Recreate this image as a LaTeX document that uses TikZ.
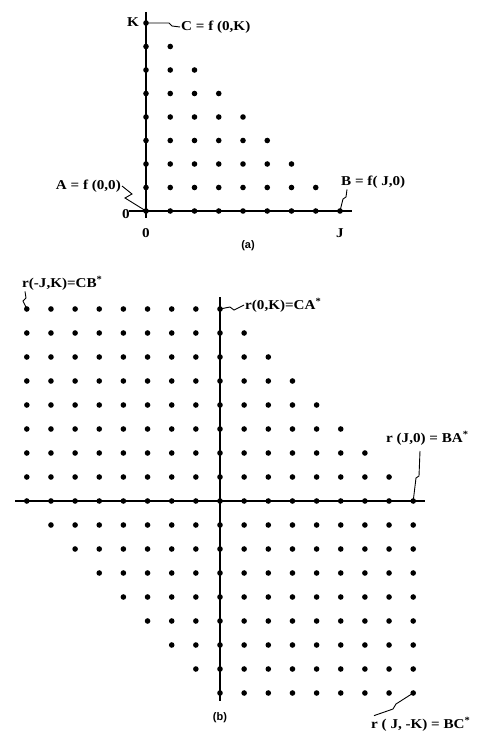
\documentclass[tikz,border=0pt]{standalone}
\usepackage{fontspec}
\setmainfont{Liberation Serif}
\newfontfamily\lblfont[FakeStretch=1.12]{Liberation Serif}
\newfontfamily\capfont{Liberation Sans}
\begin{document}
\begin{tikzpicture}[x=1pt,y=-1pt,
  lbl/.style={font=\lblfont\bfseries\fontsize{13.5}{15}\selectfont, inner sep=1pt},
  figcap/.style={font=\capfont\bfseries\fontsize{11}{13}\selectfont, inner sep=1pt},
  axis/.style={line width=1.4pt},
  leader/.style={line width=0.9pt}]
\useasboundingbox (0,0) rectangle (487,733);
% ---------- (a) ----------
\draw[axis] (129,211) -- (352,211);
\draw[axis] (146,12) -- (146,218);
\foreach \k in {0,...,8}{
  \pgfmathtruncatemacro\m{8-\k}
  \foreach \j in {0,...,\m}{
    \fill ({146+24.25*\j},{211-23.5*\k}) circle (2.8);
  }
}
\coordinate (a0) at (146,211);
\coordinate (aK) at (146,23);
\coordinate (aJ) at (340,211);
\node[lbl] (Ka) at (133,22) {K};
\node[lbl,anchor=west] (C) at (180,27) {C = f (0,K)};
\draw[leader] (aK) -- (169,23) -- (172,26) -- (C.west);
\node[lbl,anchor=east] (A) at (122,186) {A = f (0,0)};
\draw[leader] (A.east) -- (132,194) -- (125,198) -- (a0);
\node[lbl] (zl) at (126,214) {0};
\node[lbl] (zb) at (146,233) {0};
\node[lbl] (Ja) at (340,233) {J};
\node[figcap] (capa) at (248,246) {(a)};
\node[lbl,anchor=west] (B) at (340,182) {B = f( J,0)};
\draw[leader] ([xshift=7pt]B.south west) -- (346,197) -- (343,199) -- (aJ);
% ---------- (b) ----------
\draw[axis] (15,501) -- (425,501);
\draw[axis] (220,297) -- (220,701);
\foreach \k in {-8,...,8}{
  \pgfmathtruncatemacro\jlo{max(-8,-8-\k)}
  \pgfmathtruncatemacro\jhi{min(8,8-\k)}
  \foreach \j in {\jlo,...,\jhi}{
    \fill ({220+24.15*\j},{501-24*\k}) circle (2.8);
  }
}
\coordinate (bmJK) at ({220-24.15*8},309);
\coordinate (b0K) at (220,309);
\coordinate (bJ0) at ({220+24.15*8},501);
\coordinate (bJmK) at ({220+24.15*8},693);
\node[lbl,anchor=west] (rJK) at (21,283) {r(-J,K)=CB\textsuperscript{*}};
\draw[leader] ([xshift=4pt]rJK.south west) -- (26,298) -- (23,301) -- (bmJK);
\node[lbl,anchor=west] (r0K) at (244,305) {r(0,K)=CA\textsuperscript{*}};
\draw[leader] (b0K) -- (230,307) -- (234,310) -- (r0K.west);
\node[lbl,anchor=west] (rJ0) at (385,438) {r (J,0) = BA\textsuperscript{*}};
\draw[leader] (420,451) -- (419,476) -- (416,478) -- (bJ0);
\node[lbl,anchor=west] (rJmK) at (370,724) {r ( J, -K) = BC\textsuperscript{*}};
\draw[leader] (bJmK) -- (396,704) -- (393,709) -- ([xshift=4pt]rJmK.north west);
\node[figcap] (capb) at (220,718) {(b)};
\end{tikzpicture}
\end{document}
